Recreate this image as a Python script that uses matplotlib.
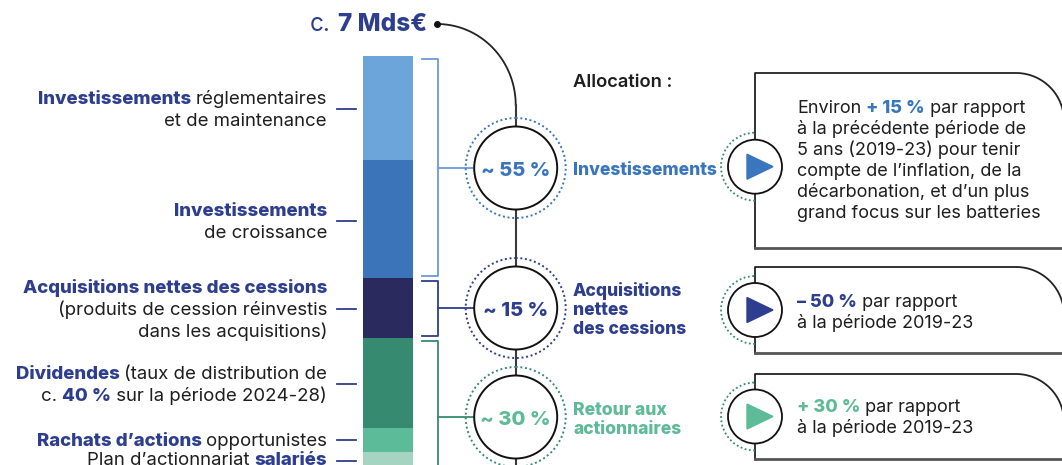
import numpy as np
import matplotlib.pyplot as plt
from matplotlib.patches import Circle, Arc, Polygon

# ---- data ----
segments = ["Investissements réglementaires et de maintenance", "Investissements de croissance",
            "Acquisitions nettes des cessions", "Dividendes", "Rachats d'actions", "Plan d'actionnariat salariés"]
shares = [25.8, 29.2, 15.0, 22.3, 6.0, 3.5]          # % of c. 7 Mds€
seg_colors = ['#6CA5DA', '#3B74B9', '#2A2A5E', '#368A6F', '#5CBB98', '#A5D5C0']

groups = [(0, 2), (2, 3), (3, 6)]
group_pct = ["~ 55 %", "~ 15 %", "~ 30 %"]
group_names = [["Investissements"], ["Acquisitions", "nettes", "des cessions"], ["Retour aux", "actionnaires"]]
group_colors = ['#3A76BD', '#2E3E8E', '#5DBB98']
bracket_colors = ['#6A9BD6', '#2E3E8E', '#368A6F']
ring_colors = ['#3A76BD', '#2E3E8E', '#368A6F']

NAVY = '#2E3E8E'
DARK = '#1E1E1E'
BOLD = 'heavy'

FONT = ['Inter', 'DejaVu Sans']

W, H = 1062, 465
fig = plt.figure(figsize=(W / 100, H / 100), dpi=100)
ax = fig.add_axes([0, 0, 1, 1])
ax.set_xlim(0, W)
ax.set_ylim(H, 0)
ax.axis('off')
R = fig.canvas.get_renderer()


def adv(s, size, wt):
    # advance width of a string, spaces included
    t1 = ax.text(0, 0, '|' + s + '|', fontsize=size, fontweight=wt, family=FONT)
    t2 = ax.text(0, 0, '||', fontsize=size, fontweight=wt, family=FONT)
    w = t1.get_window_extent(R).width - t2.get_window_extent(R).width
    t1.remove(); t2.remove()
    return w


def rich(x, y, parts, size, ha='left'):
    advs = [adv(s, size, wt) for s, wt, c in parts]
    x0 = x - sum(advs) if ha == 'right' else x
    for (s, wt, c), a in zip(parts, advs):
        ax.text(x0, y, s.rstrip(), fontsize=size, fontweight=wt, color=c, family=FONT,
                va='baseline', ha='left', zorder=6)
        x0 += a


# ---- stacked bar ----
scale = 4.03
bar_top = 56
bottoms = bar_top + np.concatenate([[0], np.cumsum(shares)[:-1]]) * scale
ax.bar(388, np.array(shares) * scale, bottom=bottoms, width=50, color=seg_colors, zorder=2)
edges = bar_top + np.concatenate([[0], np.cumsum(shares)]) * scale

# ---- title + connector ----
rich(427, 31, [("c. ", 'normal', NAVY), ("7 Mds€", BOLD, NAVY)], 17.5, ha='right')
ax.plot(437, 24, 'o', color='#111111', ms=4, zorder=5)
t = np.linspace(np.pi / 2, 0, 60)
ax.plot(437 + 78.7 * np.cos(t), 105 - 81 * np.sin(t), color='#222222', lw=1.3, zorder=1)
ax.plot([515.7, 515.7], [105, 480], color='#3a3a3a', lw=1.5, zorder=1)

ax.text(573, 87, "Allocation :", fontsize=13.2, fontweight='semibold', color=DARK, family=FONT,
        va='baseline')

# ---- brackets, circles ----
circle_y = [168, 308, 417]
for i, (a, b) in enumerate(groups):
    top = edges[a] + 3
    bot = edges[b] - 2 if i < 2 else 490
    c = bracket_colors[i]
    ax.plot([422, 438, 438, 422], [top, top, bot, bot], color=c, lw=1.3, zorder=2)
    cy = circle_y[i]
    ax.plot([438, 516], [cy, cy], color=c, lw=1.3, zorder=1)
    ax.add_patch(Circle((515.7, cy), 50, fill=False, ec=ring_colors[i], lw=1.4,
                        ls=(0, (1, 1.4)), zorder=2))
    ax.add_patch(Circle((515.7, cy), 41.5, fc='white', ec='#111111', lw=1.4, zorder=3))
    ax.text(515.7, cy + 7.5, group_pct[i], fontsize=14.5, fontweight=BOLD, color=group_colors[i],
            family=FONT, ha='center', va='baseline', zorder=6)
    names = group_names[i]
    for k, line in enumerate(names):
        yb = cy + 7 + (k - (len(names) - 1) / 2) * 19
        ax.text(573, yb, line, fontsize=12.6, fontweight=BOLD, color=group_colors[i],
                family=FONT, va='baseline', zorder=6)

# ---- left labels ----
label_lines = [
    [[("Investissements ", BOLD, NAVY), ("réglementaires", 'normal', DARK)],
     [("et de maintenance", 'normal', DARK)]],
    [[("Investissements", BOLD, NAVY)], [("de croissance", 'normal', DARK)]],
    [[("Acquisitions nettes des cessions", BOLD, NAVY)],
     [("(produits de cession réinvestis", 'normal', DARK)],
     [("dans les acquisitions)", 'normal', DARK)]],
    [[("Dividendes ", BOLD, NAVY), ("(taux de distribution de", 'normal', DARK)],
     [("c. ", 'normal', DARK), ("40 %", BOLD, NAVY), (" sur la période 2024-28)", 'normal', DARK)]],
    [[("Rachats d’actions ", BOLD, NAVY), ("opportunistes", 'normal', DARK)]],
    [[("Plan d’actionnariat ", 'normal', DARK), ("salariés", BOLD, NAVY)]],
]
leader_y = [109, 221, 309, 384, 440, 461]
for lines, ly in zip(label_lines, leader_y):
    ax.plot([337, 356], [ly, ly], color=NAVY, lw=1.3)
    n = len(lines)
    for k, parts in enumerate(lines):
        yb = min(ly + (k - (n - 1) / 2) * 22 + 5.5, 465)
        rich(327, yb, parts, 13.4, ha='right')

# ---- right boxes ----
boxes = [(73, 248), (267, 353), (374, 459)]
box_texts = [
    [[("Environ ", 'normal', DARK), ("+ 15 %", BOLD, group_colors[0]), (" par rapport", 'normal', DARK)],
     [("à la précédente période de", 'normal', DARK)],
     [("5 ans (2019-23) pour tenir", 'normal', DARK)],
     [("compte de l’inflation, de la", 'normal', DARK)],
     [("décarbonation, et d’un plus", 'normal', DARK)],
     [("grand focus sur les batteries", 'normal', DARK)]],
    [[("– 50 %", BOLD, group_colors[1]), (" par rapport", 'normal', DARK)],
     [("à la période 2019-23", 'normal', DARK)]],
    [[("+ 30 %", BOLD, group_colors[2]), (" par rapport", 'normal', DARK)],
     [("à la période 2019-23", 'normal', DARK)]],
]
box_base = [113.3, 306.7, 411.7]
bx, rad = 755, 48
for i, (top, bot) in enumerate(boxes):
    cxr, cyr = 1016, top + rad
    th = np.linspace(np.pi / 2, 0, 40)
    xs = np.concatenate([[bx, bx, cxr], cxr + rad * np.cos(th), [cxr + rad]])
    ys = np.concatenate([[bot, top, top], cyr - rad * np.sin(th), [bot]])
    ax.plot(xs, ys, color='#222222', lw=1.3, zorder=2)
    ax.plot([bx, W + 5], [bot, bot], color='#555555', lw=2, zorder=2)
    cy = (top + bot) / 2 if i else 166.7
    ax.add_patch(Arc((bx, cy), 68, 68, theta1=90, theta2=270, ec='#368A6F', lw=1.3,
                     ls=(0, (1, 1.4)), zorder=3))
    ax.add_patch(Circle((bx, cy), 27, fc='white', ec='#111111', lw=1.3, zorder=3))
    ax.add_patch(Polygon([(bx - 8, cy - 12.5), (bx - 8, cy + 12.5), (bx + 18, cy)],
                         closed=True, color=group_colors[i], zorder=4))
    for k, parts in enumerate(box_texts[i]):
        rich(797, box_base[i] + k * 21, parts, 13.0)

fig.savefig('out.png', dpi=100)
